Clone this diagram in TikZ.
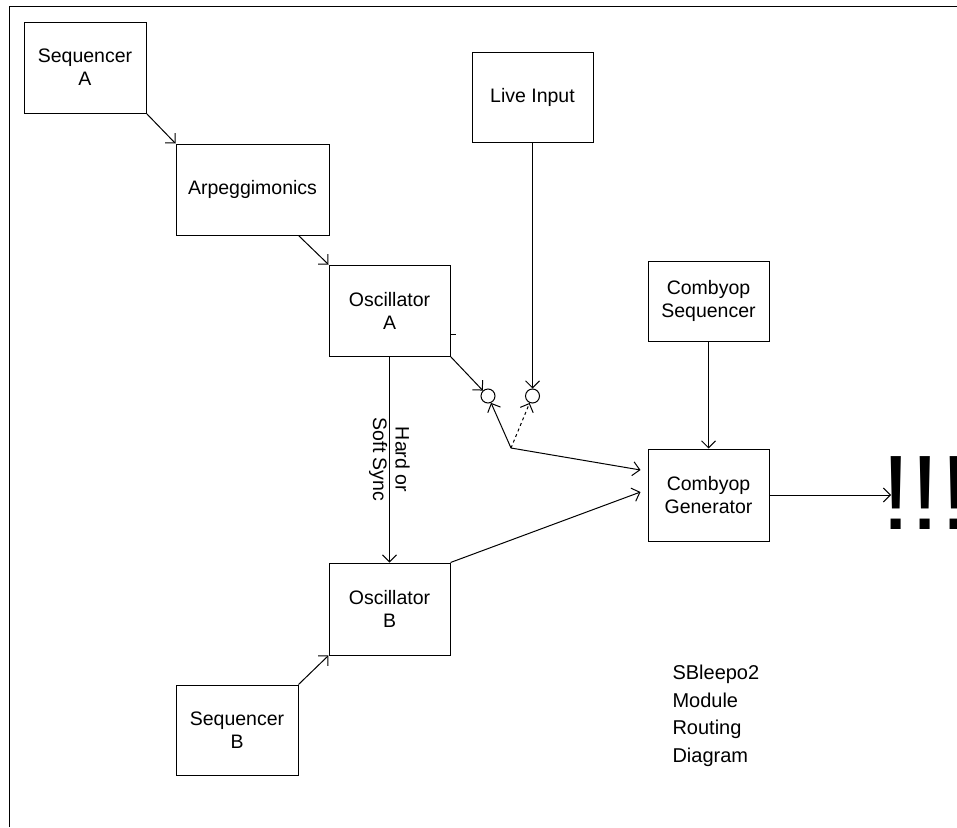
\documentclass[tikz,border=0pt]{standalone}
\usepackage{fontspec}
\setmainfont{Liberation Sans}
\usetikzlibrary{arrows.meta}
\begin{document}
\begin{tikzpicture}[x=1pt,y=-1pt,line width=1pt,
  box/.style={draw,rectangle,inner sep=0pt,align=center,font=\fontsize{19.5}{23}\selectfont},
  conn/.style={-{Straight Barb[length=7pt,width=14pt]}},
  sw/.style={draw,circle,inner sep=0pt,minimum size=14pt}]
\useasboundingbox (0,0) rectangle (957,827);
\draw (9,827) -- (9,6) -- (957,6);
% boxes
\node[box,minimum width=122pt,minimum height=91pt] (seqA) at (85,67.5) {Sequencer\\A};
\node[box,minimum width=153pt,minimum height=91pt] (arp) at (252.5,189.5) {Arpeggimonics};
\node[box,minimum width=121pt,minimum height=91pt] (oscA) at (389.5,310.5) {Oscillator\\A};
\node[box,minimum width=121pt,minimum height=90pt] (live) at (532.5,97) {Live Input};
\node[box,minimum width=121pt,minimum height=80pt] (cseq) at (708.5,301) {Combyop\\Sequencer};
\node[box,minimum width=121pt,minimum height=92pt] (gen) at (708.5,495) {Combyop\\Generator};
\node[box,minimum width=121pt,minimum height=92pt] (oscB) at (389.5,609) {Oscillator\\B};
\node[box,minimum width=122pt,minimum height=90pt] (seqB) at (237,730) {Sequencer\\B};
% switch
\node[sw] (c1) at (488,396) {};
\node[sw] (c2) at (532.5,396) {};
\coordinate (p) at (511,448);
\coordinate (out) at (891,495);
% connectors
\draw[conn] (seqA.south east) -- (arp.north west);
\draw[conn] ([xshift=-31pt]arp.south east) -- (oscA.north west);
\draw[conn] (oscA.south) -- (oscB.north)
  node[midway,rotate=-90,align=center,inner sep=0pt,font=\fontsize{19.5}{22.5}\selectfont] (sync) {Hard or\\Soft Sync};
\draw[conn] (seqB.north east) -- (oscB.south west);
\draw[conn] (oscA.south east) -- (c1);
\draw[conn] (live.south) -- (c2);
\draw[conn] (p) -- (c1);
\draw[conn,dashed] (p) -- (c2);
\draw[conn] (p) -- ([xshift=-7pt,yshift=25pt]gen.west);
\draw[conn] (oscB.north east) -- ([xshift=-7pt,yshift=3pt]gen.west);
\draw[conn] (cseq.south) -- (gen.north);
\draw[conn] (gen.east) -- (out);
\draw ([yshift=-23.5pt]oscA.east) -- ++(5,0);
% texts
\node[anchor=base west,inner sep=0pt,font=\fontsize{106}{106}\selectfont] (bang) at (881,529) {!!!};
\node[anchor=base west,inner sep=0pt,align=left,font=\fontsize{20}{27.5}\selectfont] (title) at (672,762) {SBleepo2\\Module\\Routing\\Diagram};
\end{tikzpicture}
\end{document}
